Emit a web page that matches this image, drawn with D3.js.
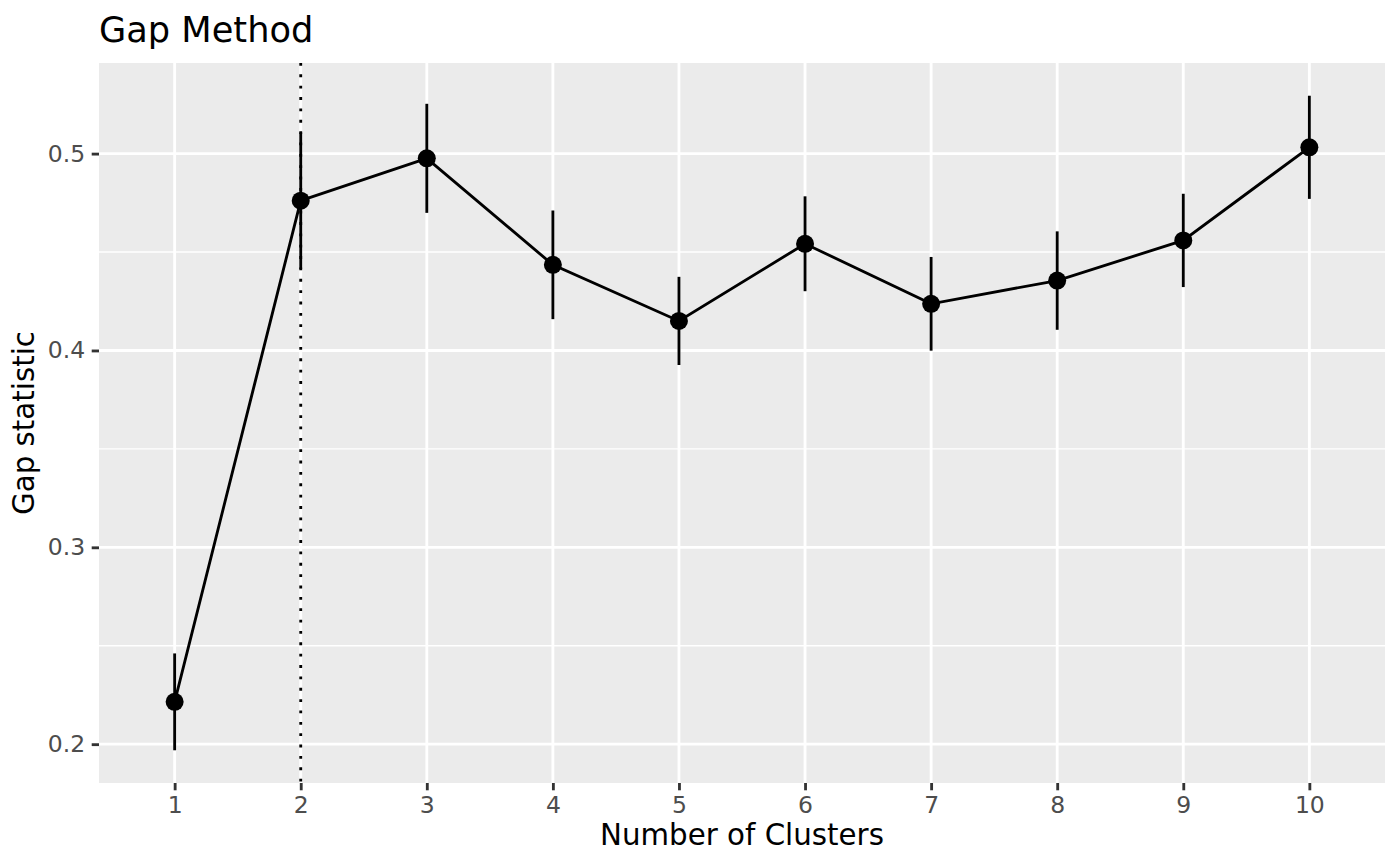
<!DOCTYPE html>
<html>
<head>
<meta charset="utf-8">
<script src="https://cdn.jsdelivr.net/npm/d3@7"></script>
<style>
  body { margin: 0; background: #fff; }
  text { font-family: "DejaVu Sans", sans-serif; }
</style>
</head>
<body>
<div id="container"></div>
<script>
/* CONSTANTS AND GLOBALS */
const width = 1400,
  height = 866,
  margin = { top: 63, bottom: 83, left: 99, right: 15 };

/* DATA */
const clusters = [1, 2, 3, 4, 5, 6, 7, 8, 9, 10];
const gapValues = [0.2215, 0.4761, 0.4976, 0.4435, 0.4150, 0.4542, 0.4237, 0.4355, 0.4559, 0.5032];
const gapSE = [0.0246, 0.0347, 0.0277, 0.0276, 0.0224, 0.0241, 0.0238, 0.0250, 0.0237, 0.0262];
const yTicks = [0.2, 0.3, 0.4, 0.5];
const yMinorTicks = [0.25, 0.35, 0.45];
const optimalK = 2;

const data = clusters.map((k, i) => ({
  k: k,
  gap: gapValues[i],
  lo: gapValues[i] - gapSE[i],
  hi: gapValues[i] + gapSE[i]
}));

// SCALES (discrete x: 0.6 units of padding, continuous y: 5% expansion)
const xScale = d3.scaleLinear()
  .domain([clusters[0] - 0.6, clusters[clusters.length - 1] + 0.6])
  .range([margin.left, width - margin.right]);

const yLo = d3.min(data, d => d.lo),
  yHi = d3.max(data, d => d.hi),
  yPad = (yHi - yLo) * 0.05;

const yScale = d3.scaleLinear()
  .domain([yLo - yPad, yHi + yPad])
  .range([height - margin.bottom, margin.top]);

// CREATE SVG CONTAINER
const svg = d3.select("#container")
  .append("svg")
  .attr("width", width)
  .attr("height", height);

// PANEL
svg.append("rect")
  .attr("x", margin.left)
  .attr("y", margin.top)
  .attr("width", width - margin.left - margin.right)
  .attr("height", height - margin.top - margin.bottom)
  .attr("fill", "#EBEBEB");

// GRID LINES
svg.append("g")
  .selectAll("line")
  .data(yMinorTicks)
  .join("line")
  .attr("x1", margin.left)
  .attr("x2", width - margin.right)
  .attr("y1", d => yScale(d))
  .attr("y2", d => yScale(d))
  .attr("stroke", "#fff")
  .attr("stroke-width", 1.42);

svg.append("g")
  .selectAll("line")
  .data(yTicks)
  .join("line")
  .attr("x1", margin.left)
  .attr("x2", width - margin.right)
  .attr("y1", d => yScale(d))
  .attr("y2", d => yScale(d))
  .attr("stroke", "#fff")
  .attr("stroke-width", 2.84);

svg.append("g")
  .selectAll("line")
  .data(clusters)
  .join("line")
  .attr("x1", d => xScale(d))
  .attr("x2", d => xScale(d))
  .attr("y1", margin.top)
  .attr("y2", height - margin.bottom)
  .attr("stroke", "#fff")
  .attr("stroke-width", 2.84);

// BUILD AND CALL AXES
const xAxis = d3.axisBottom(xScale)
  .tickValues(clusters)
  .tickFormat(d3.format("d"))
  .tickSize(7.3)
  .tickPadding(5.9);

const xAxisGroup = svg.append("g")
  .attr("class", "xAxis")
  .attr("transform", `translate(0, ${height - margin.bottom})`)
  .call(xAxis);

const yAxis = d3.axisLeft(yScale)
  .tickValues(yTicks)
  .tickFormat(d3.format(".1f"))
  .tickSize(7.3)
  .tickPadding(6.5);

const yAxisGroup = svg.append("g")
  .attr("class", "yAxis")
  .attr("transform", `translate(${margin.left}, 0)`)
  .call(yAxis);

[xAxisGroup, yAxisGroup].forEach(g => {
  g.select(".domain").remove();
  g.selectAll(".tick line").attr("stroke", "#333333").attr("stroke-width", 2.84);
  g.selectAll(".tick text")
    .attr("fill", "#4D4D4D")
    .style("font-family", "'DejaVu Sans', sans-serif")
    .style("font-size", "23.5px");
});

// OPTIMAL K LINE
svg.append("line")
  .attr("x1", xScale(optimalK))
  .attr("x2", xScale(optimalK))
  .attr("y1", margin.top)
  .attr("y2", height - margin.bottom)
  .attr("stroke", "#000")
  .attr("stroke-width", 2.84)
  .attr("stroke-dasharray", "2.84 8.52");

// ERROR BARS
svg.append("g")
  .selectAll("line")
  .data(data)
  .join("line")
  .attr("x1", d => xScale(d.k))
  .attr("x2", d => xScale(d.k))
  .attr("y1", d => yScale(d.lo))
  .attr("y2", d => yScale(d.hi))
  .attr("stroke", "#000")
  .attr("stroke-width", 2.84);

// LINE
const lineGenerator = d3.line()
  .x(d => xScale(d.k))
  .y(d => yScale(d.gap));

svg.append("path")
  .datum(data)
  .attr("d", lineGenerator)
  .attr("fill", "none")
  .attr("stroke", "#000")
  .attr("stroke-width", 2.84);

// POINTS
svg.append("g")
  .selectAll("circle")
  .data(data)
  .join("circle")
  .attr("cx", d => xScale(d.k))
  .attr("cy", d => yScale(d.gap))
  .attr("r", 9)
  .attr("fill", "#000");

// Add X-Axis Title
svg.append("text")
  .attr("x", (margin.left + width - margin.right) / 2)
  .attr("y", 845)
  .style("text-anchor", "middle")
  .style("font-size", "29.3px")
  .text("Number of Clusters");

// Add Y-Axis Title
svg.append("text")
  .attr("x", -(margin.top + height - margin.bottom) / 2)
  .attr("y", 34)
  .attr("transform", "rotate(-90)")
  .style("text-anchor", "middle")
  .style("font-size", "29.3px")
  .text("Gap statistic");

// Add Main Title
svg.append("text")
  .attr("x", margin.left)
  .attr("y", 41.5)
  .style("font-size", "35.2px")
  .text("Gap Method");
</script>
</body>
</html>
